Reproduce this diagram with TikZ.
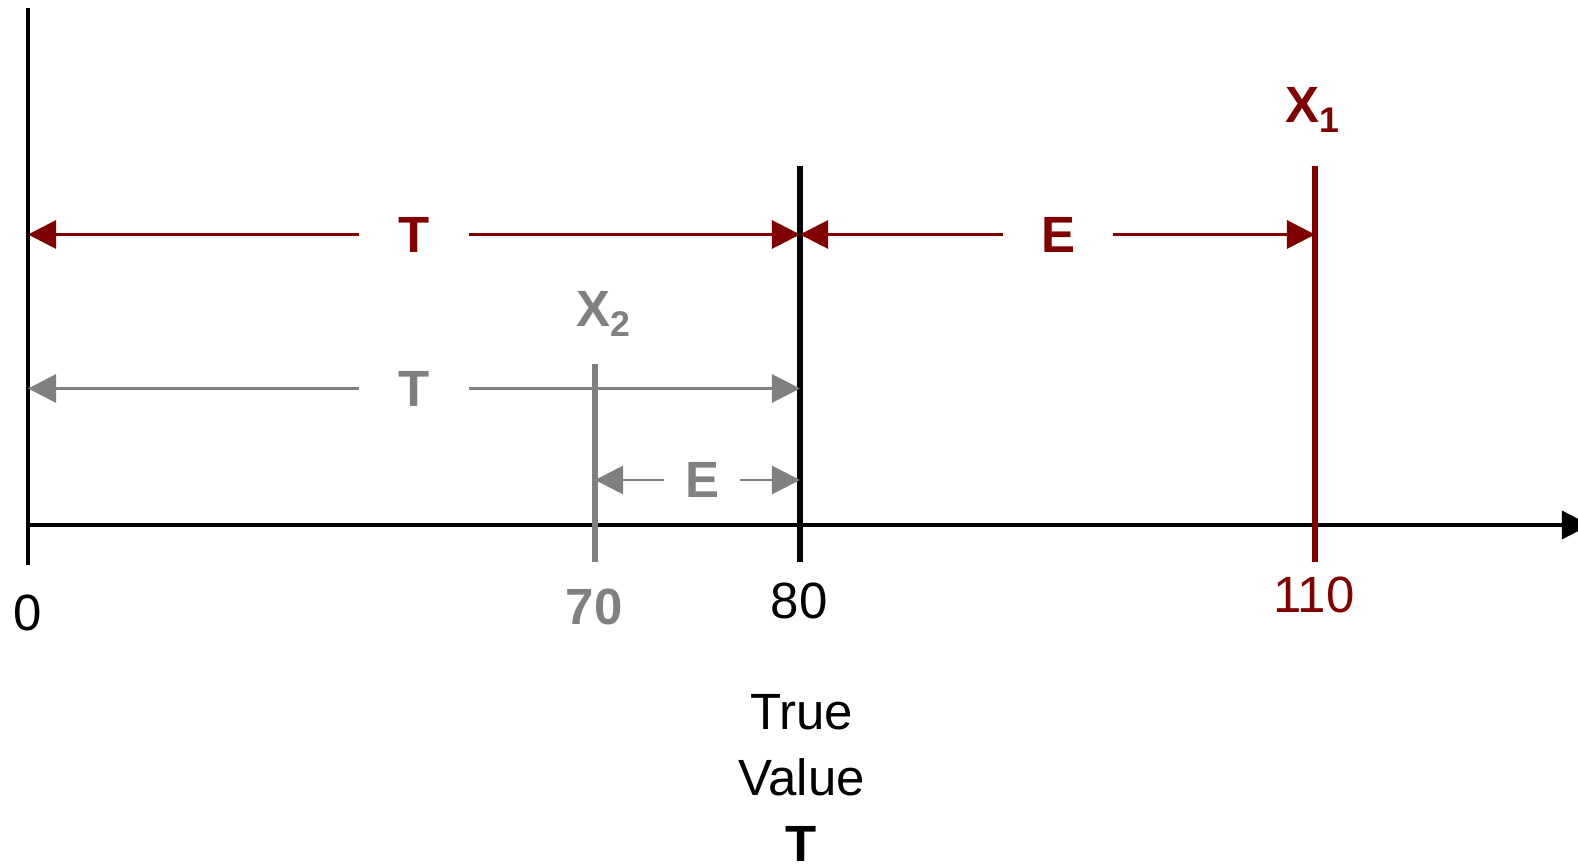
\documentclass[tikz,border=0pt]{standalone}
\usepackage{fontspec}
\setmainfont{Liberation Sans}
\usetikzlibrary{positioning,arrows.meta,calc}
\definecolor{errred}{HTML}{800000}
\definecolor{errgrey}{HTML}{808080}
\tikzset{
  lbl/.style={inner sep=0pt, font=\fontsize{29}{37.6}\selectfont},
  boldlbl/.style={inner sep=0pt, font=\fontsize{29}{37.6}\selectfont\bfseries},
  gaplbl/.style={boldlbl, minimum width=2.2cm},
  dimarrow/.style={-{Triangle[length=16pt,width=16pt]}, line width=1.7pt},
  valline/.style={line width=3.8pt}
}

\begin{document}
\begin{tikzpicture}[x=0.02cm, y=-0.02cm]
  \useasboundingbox (0,0) rectangle (1578,864);

  % axes
  \coordinate (o) at (28,525);
  \coordinate (otop) at (28,8);
  \coordinate (obot) at (28,565);
  \coordinate (xend) at (1590,525);
  \draw[line width=1.9pt] (otop) -- (obot);
  \draw[line width=1.9pt, -{Triangle[length=16pt,width=16pt]}] (o) -- (xend);

  % value lines
  \coordinate (ttop) at (800,166);
  \coordinate (tbot) at (800,562);
  \coordinate (x1top) at (1315,166);
  \coordinate (x1bot) at (1315,562);
  \coordinate (x2top) at (595,364);
  \coordinate (x2bot) at (595,562);
  \draw[valline] (ttop) -- (tbot);
  \draw[valline, errred] (x1top) -- (x1bot);
  \draw[valline, errgrey] (x2top) -- (x2bot);

  \node[boldlbl, text=errred, anchor=base] (x1lbl) at (1313,123) {X\textsubscript{1}};
  \node[boldlbl, text=errgrey, anchor=base] (x2lbl) at (604,327) {X\textsubscript{2}};

  % measurement X1
  \node[gaplbl, text=errred] (tred) at (414,234.5) {T};
  \draw[dimarrow, errred] (tred.west) -- (tred.west -| otop);
  \draw[dimarrow, errred] (tred.east) -- (tred.east -| ttop);
  \node[gaplbl, text=errred] (ered) at (1058,234.5) {E};
  \draw[dimarrow, errred] (ered.west) -- (ered.west -| ttop);
  \draw[dimarrow, errred] (ered.east) -- (ered.east -| x1top);

  % measurement X2
  \node[gaplbl, text=errgrey] (tgrey) at (414,388.5) {T};
  \draw[dimarrow, errgrey] (tgrey.west) -- (tgrey.west -| otop);
  \draw[dimarrow, errgrey] (tgrey.east) -- (tgrey.east -| ttop);
  \node[gaplbl, text=errgrey, minimum width=1.52cm] (egrey) at (702,480) {E};
  \draw[dimarrow, errgrey] (egrey.west) -- (egrey.west -| x2top);
  \draw[dimarrow, errgrey] (egrey.east) -- (egrey.east -| ttop);

  % tick labels
  \node[lbl, anchor=base] (t0) at (28,630) {0};
  \node[boldlbl, text=errgrey, anchor=base] (t70) at (594,624) {70};
  \node[lbl, anchor=base] (t80) at (799,618) {80};
  \node[lbl, text=errred, anchor=base] (t110) at (1314,612) {110};

  \node[lbl, align=center, below=43pt of t80, xshift=0.05cm] (truelbl) {True\\Value\\\textbf{T}};
\end{tikzpicture}
\end{document}
